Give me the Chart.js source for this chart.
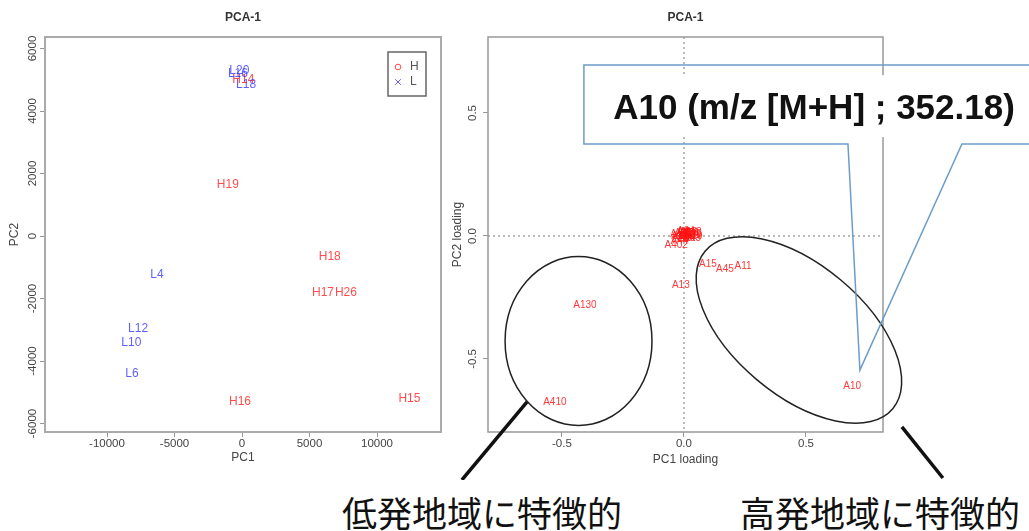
<!DOCTYPE html>
<html><head><meta charset="utf-8">
<script src="https://cdn.jsdelivr.net/npm/chart.js@4.4.0/dist/chart.umd.min.js"></script>
<style>
html,body{margin:0;padding:0;background:#fff;width:1029px;height:531px;overflow:hidden;position:relative;}
#c1{position:absolute;left:0;top:0;}
#c2{position:absolute;left:450px;top:0;}
.note{position:absolute;font-family:"Noto Sans CJK JP",sans-serif;font-size:35px;line-height:35px;color:#111;white-space:nowrap;}
</style></head><body>
<canvas id="c1" width="450" height="480"></canvas>
<canvas id="c2" width="579" height="480"></canvas>
<div class="note" style="left:342px;top:494px;">低発地域に特徴的</div>
<div class="note" style="left:740px;top:494px;">高発地域に特徴的</div>
<script>
// ---------- data: scores (left) ----------
const hLabels = ['H14','H15','H16','H17','H18','H19','H26'];
const hPC1    = [100, 12400, -150, 6000, 6500, -1050, 7700];
const hPC2    = [5000, -5200, -5300, -1800, -650, 1650, -1800];
const lLabels = ['L4','L6','L10','L12','L16','L18','L20'];
const lPC1    = [-6300, -8150, -8200, -7700, -300, 300, -200];
const lPC2    = [-1250, -4400, -3400, -2950, 5200, 4850, 5300];
const scoreXTicks = [-10000, -5000, 0, 5000, 10000];
const scoreXTickLabels = ['-10000', '-5000', '0', '5000', '10000'];
const scoreYTicks = [-6000, -4000, -2000, 0, 2000, 4000, 6000];
const scoreYTickLabels = ['-6000', '-4000', '-2000', '0', '2000', '4000', '6000'];

// ---------- data: loadings (right) ----------
const aLabels = ['A10','A11','A13','A15','A45','A130','A410',
  'A1','A2','A3','A4','A5','A6','A7','A8','A9','A12','A14','A16','A20','A21','A44','A402',
  'A17','A18','A19','A22','A23','A24','A25','A26'];
const aPC1 = [0.689, 0.242, -0.013, 0.098, 0.168, -0.406, -0.529,
  0.005, 0.015, 0.025, -0.005, 0.010, 0.020, 0.028, -0.010, 0.000, 0.018, 0.012, 0.024, -0.012, 0.030, -0.018, -0.032,
  -0.020, 0.036, 0.040, -0.016, 0.034, 0.008, -0.002, 0.038];
const aPC2 = [-0.610, -0.122, -0.199, -0.114, -0.134, -0.280, -0.675,
  0.012, 0.010, 0.006, 0.014, 0.002, 0.000, -0.004, 0.004, -0.004, 0.015, -0.008, 0.012, -0.010, 0.004, -0.020, -0.036,
  0.006, 0.014, -0.002, -0.002, -0.010, 0.018, 0.010, 0.006];
const loadTicks = [-0.5, 0, 0.5];
const loadTickLabels = ['-0.5', '0.0', '0.5'];

const FONT = '"Liberation Sans", Arial, Helvetica, sans-serif';
const pts = (xs, ys) => xs.map((x, i) => ({x, y: ys[i]}));

function xScale(min, max, ticks, labels, title, padB) {
  return {
    type: 'linear', position: 'bottom', min, max,
    afterBuildTicks: s => { s.ticks = ticks.map(v => ({value: v})); },
    afterFit: s => { s.height = 48; },
    grid: {drawOnChartArea: false, drawTicks: true, tickLength: 5, color: '#999', lineWidth: 1},
    border: {display: false},
    ticks: {padding: 0, color: '#444', font: {family: FONT, size: 11.5}, maxRotation: 0, autoSkip: false,
      callback: v => { const i = ticks.indexOf(v); return i >= 0 ? labels[i] : ''; }},
    title: {display: true, text: title, color: '#444', font: {family: FONT, size: 12}, padding: {top: 0, bottom: padB}}
  };
}
function yScale(min, max, ticks, title, width, padT) {
  return {
    type: 'linear', position: 'left', min, max,
    afterBuildTicks: s => { s.ticks = ticks.map(v => ({value: v})); },
    afterFit: s => { s.width = width; },
    grid: {drawOnChartArea: false, drawTicks: true, tickLength: 5, color: '#999', lineWidth: 1},
    border: {display: false},
    ticks: {display: false},
    title: {display: true, text: title, color: '#444', font: {family: FONT, size: 12}, padding: {top: padT, bottom: 0}}
  };
}
const titleOpts = {display: true, text: 'PCA-1', fullSize: false, color: '#333',
  font: {family: FONT, size: 12, weight: 'bold'}, padding: {top: 10.8, bottom: 11.8}};

const textLabels = {
  id: 'textLabels',
  afterDatasetsDraw(chart, args, opts) {
    const ctx = chart.ctx;
    ctx.save();
    ctx.font = opts.font;
    ctx.textAlign = 'center';
    ctx.textBaseline = 'middle';
    chart.data.datasets.forEach((ds, i) => {
      const meta = chart.getDatasetMeta(i);
      ctx.fillStyle = ds.textColor;
      meta.data.forEach((el, j) => ctx.fillText(ds.pointLabels[j], el.x, el.y));
    });
    ctx.restore();
  }
};
function yTickLabels(labels, values, offset) {
  return {
    id: 'yTickLabels',
    afterDraw(chart) {
      const ctx = chart.ctx, s = chart.scales.y, ca = chart.chartArea;
      ctx.save();
      ctx.font = '11.5px ' + FONT;
      ctx.fillStyle = '#444';
      ctx.textAlign = 'center';
      ctx.textBaseline = 'middle';
      values.forEach((v, i) => {
        const y = s.getPixelForValue(v);
        ctx.save();
        ctx.translate(ca.left - offset, y);
        ctx.rotate(-Math.PI / 2);
        ctx.fillText(labels[i], 0, 0);
        ctx.restore();
      });
      ctx.restore();
    }
  };
}
function boxPlugin(color, width) {
  return {
    id: 'box',
    afterDraw(chart) {
      const ctx = chart.ctx, ca = chart.chartArea;
      ctx.save();
      ctx.strokeStyle = color; ctx.lineWidth = width;
      ctx.strokeRect(ca.left, ca.top, ca.width, ca.height);
      ctx.restore();
    }
  };
}

// ---------- left chart ----------
const legendPlugin = {
  id: 'rLegend',
  afterDraw(chart) {
    const ctx = chart.ctx, ca = chart.chartArea;
    const bx = ca.right - 53, by = ca.top + 15, bw = 38, bh = 44;
    ctx.save();
    ctx.strokeStyle = '#666'; ctx.lineWidth = 1.5;
    ctx.strokeRect(bx, by, bw, bh);
    ctx.font = '12px ' + FONT; ctx.textBaseline = 'middle'; ctx.textAlign = 'left';
    chart.data.datasets.forEach((ds, i) => {
      const y = by + 15 + i * 15, x = bx + 10;
      ctx.strokeStyle = ds.textColor; ctx.lineWidth = 1;
      ctx.beginPath();
      if (ds.pointStyle === 'circle') { ctx.arc(x, y, 2.8, 0, Math.PI * 2); }
      else { ctx.moveTo(x - 2.8, y - 2.8); ctx.lineTo(x + 2.8, y + 2.8); ctx.moveTo(x + 2.8, y - 2.8); ctx.lineTo(x - 2.8, y + 2.8); }
      ctx.stroke();
      ctx.fillStyle = '#555';
      ctx.fillText(ds.label, x + 12, y);
    });
    ctx.restore();
  }
};

new Chart(document.getElementById('c1'), {
  type: 'scatter',
  data: {datasets: [
    {label: 'H', data: pts(hPC1, hPC2), pointLabels: hLabels, textColor: 'rgba(255,30,30,0.8)', pointStyle: 'circle', pointRadius: 0, borderColor: 'red'},
    {label: 'L', data: pts(lPC1, lPC2), pointLabels: lLabels, textColor: 'rgba(40,40,255,0.75)', pointStyle: 'crossRot', pointRadius: 0, borderColor: 'blue'}
  ]},
  options: {
    responsive: false, animation: false, events: [],
    layout: {padding: {left: 0, right: 9, top: 0, bottom: 0}},
    scales: {
      x: xScale(-14593, 14740, scoreXTicks, scoreXTickLabels, 'PC1', 14.8),
      y: yScale(-6272, 6368, scoreYTicks, 'PC2', 45, 7.8)
    },
    plugins: {legend: {display: false}, tooltip: {enabled: false}, title: titleOpts,
      textLabels: {font: '12px ' + FONT}}
  },
  plugins: [textLabels, yTickLabels(scoreYTickLabels, scoreYTicks, 12), boxPlugin('#aaa', 2), legendPlugin]
});

// ---------- right chart ----------
const ellipses = [
  {cx: -0.432, cy: -0.427, a: 0.301, b: 0.346, rot: 0},
  {cx: 0.471, cy: -0.382, a: 0.502, b: 0.267, rot: 40}
];
const pointers = [
  {x1: -0.643, y1: -0.675, x2: -0.910, y2: -0.992},
  {x1: 0.893, y1: -0.776, x2: 1.061, y2: -0.984}
];
const callout = {left: -0.41, right: 1.45, top: 0.695, bottom: 0.374, tailA: 0.672, tailB: 1.139, tipX: 0.721, tipY: -0.545,
  text: 'A10 (m/z [M+H] ; 352.18)', textX: 0.533, textY: 0.476, padTop: 0.654, padBottom: 0.402, padLeft: -0.393};

const zeroLines = {
  id: 'zeroLines',
  beforeDatasetsDraw(chart) {
    const ctx = chart.ctx, ca = chart.chartArea, sx = chart.scales.x, sy = chart.scales.y;
    const x0 = sx.getPixelForValue(0), y0 = sy.getPixelForValue(0);
    ctx.save();
    ctx.strokeStyle = '#777'; ctx.lineWidth = 1; ctx.setLineDash([2, 3]);
    ctx.beginPath();
    ctx.moveTo(x0, ca.top); ctx.lineTo(x0, ca.bottom);
    ctx.moveTo(ca.left, y0); ctx.lineTo(ca.right, y0);
    ctx.stroke();
    ctx.restore();
  }
};
const annotations = {
  id: 'annotations',
  afterDraw(chart) {
    const ctx = chart.ctx, sx = chart.scales.x, sy = chart.scales.y;
    const px = v => sx.getPixelForValue(v), py = v => sy.getPixelForValue(v);
    const unit = Math.abs(px(1) - px(0));
    ctx.save();
    ctx.strokeStyle = '#222'; ctx.lineWidth = 1.5;
    ellipses.forEach(e => {
      ctx.beginPath();
      ctx.ellipse(px(e.cx), py(e.cy), e.a * unit, e.b * unit, e.rot * Math.PI / 180, 0, Math.PI * 2);
      ctx.stroke();
    });
    const c = callout;
    ctx.fillStyle = '#fff';
    ctx.fillRect(px(c.padLeft), py(c.padTop), px(c.right) - px(c.padLeft), py(c.padBottom) - py(c.padTop));
    ctx.strokeStyle = '#6c9cc8'; ctx.lineWidth = 1.5; ctx.lineJoin = 'miter';
    ctx.beginPath();
    ctx.moveTo(px(c.tailA), py(c.bottom));
    ctx.lineTo(px(c.left), py(c.bottom));
    ctx.lineTo(px(c.left), py(c.top));
    ctx.lineTo(px(c.right), py(c.top));
    ctx.lineTo(px(c.right), py(c.bottom));
    ctx.lineTo(px(c.tailB), py(c.bottom));
    ctx.lineTo(px(c.tipX), py(c.tipY));
    ctx.closePath();
    ctx.stroke();
    ctx.fillStyle = '#111';
    ctx.font = 'bold 35px ' + FONT;
    ctx.textAlign = 'center'; ctx.textBaseline = 'alphabetic';
    ctx.fillText(c.text, px(c.textX), py(c.textY));
    ctx.strokeStyle = '#111'; ctx.lineWidth = 3.5;
    pointers.forEach(p => {
      ctx.beginPath(); ctx.moveTo(px(p.x1), py(p.y1)); ctx.lineTo(px(p.x2), py(p.y2)); ctx.stroke();
    });
    ctx.restore();
  }
};

new Chart(document.getElementById('c2'), {
  type: 'scatter',
  data: {datasets: [
    {label: 'loading', data: pts(aPC1, aPC2), pointLabels: aLabels, textColor: 'rgba(255,20,20,0.85)', pointRadius: 0}
  ]},
  options: {
    responsive: false, animation: false, events: [],
    layout: {padding: {left: 0, right: 146, top: 0, bottom: 0}},
    scales: {
      x: xScale(-0.803, 0.8156, loadTicks, loadTickLabels, 'PC1 loading', 12.8),
      y: yScale(-0.797, 0.809, loadTicks, 'PC2 loading', 38, 0.8)
    },
    plugins: {legend: {display: false}, tooltip: {enabled: false}, title: titleOpts,
      textLabels: {font: '10px ' + FONT}}
  },
  plugins: [zeroLines, textLabels, yTickLabels(loadTickLabels, loadTicks, 15), boxPlugin('#999', 1.5), annotations]
});
</script>
</body></html>
